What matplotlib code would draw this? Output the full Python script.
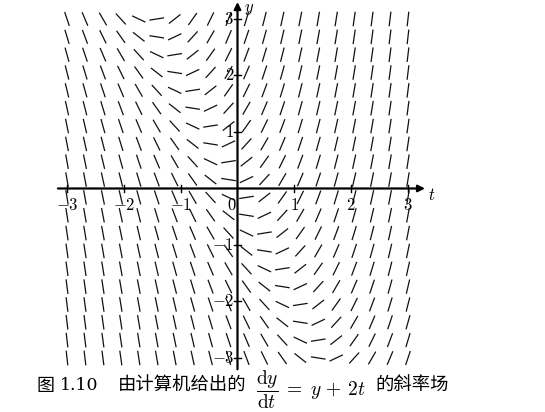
import numpy as np
import matplotlib
matplotlib.use("Agg")
import matplotlib.pyplot as plt
from matplotlib.collections import LineCollection

plt.rcParams["mathtext.fontset"] = "cm"

# grid points of the slope field (20 x 20 over [-3, 3])
t_grid = [-3.0, -2.684, -2.368, -2.053, -1.737, -1.421, -1.105, -0.789, -0.474, -0.158,
          0.158, 0.474, 0.789, 1.105, 1.421, 1.737, 2.053, 2.368, 2.684, 3.0]
y_grid = [-3.0, -2.684, -2.368, -2.053, -1.737, -1.421, -1.105, -0.789, -0.474, -0.158,
          0.158, 0.474, 0.789, 1.105, 1.421, 1.737, 2.053, 2.368, 2.684, 3.0]
t_ticks = [-3, -2, -1, 1, 2, 3]
y_ticks = [-3, -2, -1, 1, 2, 3]
caption_fig = "图"
caption_num = "1.10"
caption_cn1 = "由计算机给出的"
caption_math = r"$\dfrac{\mathrm{d}y}{\mathrm{d}t}\;=\;y\,+\,2t$"
caption_cn2 = "的斜率场"


def pendente(t, y):
    # dy/dt = y + 2t
    return y + 2 * t


fig = plt.figure(figsize=(5.45, 4.12), dpi=100)
ax = fig.add_axes([0, 0, 1, 1])
ax.set_xlim(-4.179, 5.411)
ax.set_ylim(-3.956, 3.336)
ax.axis("off")

# segmentos do campo de direções
L = 0.13
segs = []
for t in t_grid:
    for y in y_grid:
        f = pendente(t, y)
        dx = L / np.sqrt(1 + f * f)
        dy = f * dx
        segs.append([(t - dx, y - dy), (t + dx, y + dy)])
ax.add_collection(LineCollection(segs, colors="#111111", linewidths=0.9))

# eixos com setas
ax.annotate("", xy=(3.3, 0), xytext=(-3.16, 0),
            arrowprops=dict(arrowstyle="-|>", color="black", lw=1.6,
                            mutation_scale=10, shrinkA=0, shrinkB=0))
ax.annotate("", xy=(0, 3.3), xytext=(0, -3.2),
            arrowprops=dict(arrowstyle="-|>", color="black", lw=1.6,
                            mutation_scale=10, shrinkA=0, shrinkB=0))
ax.text(3.36, -0.12, "$t$", fontsize=12, ha="left", va="center")
ax.text(0.12, 3.2, "$y$", fontsize=12, ha="left", va="center")

# marcas e rótulos
for v in t_ticks:
    ax.plot([v, v], [-0.06, 0.06], color="black", lw=1.0)
    ax.text(v, -0.3, f"${v}$", fontsize=12, ha="center", va="center")
ax.text(-0.1, -0.3, "$0$", fontsize=12, ha="center", va="center")
for v in y_ticks:
    ax.plot([-0.06, 0.06], [v, v], color="black", lw=1.0)
    ax.text(-0.06, v, f"${v}$", fontsize=12, ha="right", va="center")

# legenda da figura
fam = ["Noto Sans CJK SC", "DejaVu Sans"]
yc = 1 - 386 / 412
fig.text(37 / 545, yc, caption_fig, fontsize=13, family=fam, ha="left", va="center")
fig.text(60 / 545, yc, caption_num, fontsize=12.5, family="DejaVu Serif",
         ha="left", va="center")
fig.text(118 / 545, yc, caption_cn1, fontsize=13.2, family=fam, ha="left", va="center")
fig.text(256 / 545, 1 - 390 / 412, caption_math, fontsize=14, ha="left", va="center")
fig.text(375 / 545, yc, caption_cn2, fontsize=13.2, family=fam, ha="left", va="center")

fig.savefig("out.png", dpi=100)
